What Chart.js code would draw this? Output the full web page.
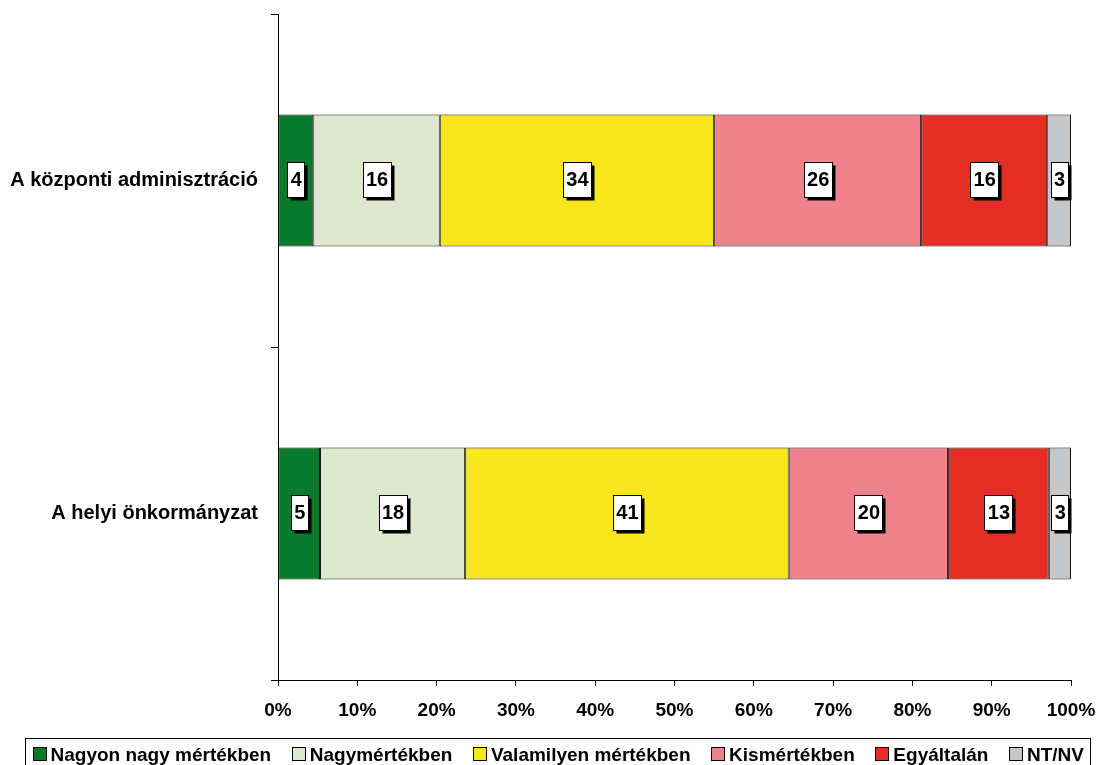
<!DOCTYPE html>
<html>
<head>
<meta charset="utf-8">
<script src="https://cdn.jsdelivr.net/npm/chart.js@4.4.1/dist/chart.umd.min.js"></script>
<style>
  html, body { margin: 0; padding: 0; background: #ffffff; }
  #wrap { width: 1098px; height: 765px; position: relative; }
</style>
</head>
<body>
<div id="wrap"><canvas id="c" width="1098" height="765"></canvas></div>
<script>
// ---- Data ----
const categories = ['A központi adminisztráció', 'A helyi önkormányzat'];
const seriesNames = ['Nagyon nagy mértékben', 'Nagymértékben', 'Valamilyen mértékben', 'Kismértékben', 'Egyáltalán', 'NT/NV'];
// bar shares (percent of the 100% bar), per series: [központi, helyi]
const nagyonNagy   = [4.45, 5.3];
const nagy         = [15.95, 18.3];
const valamilyen   = [34.6, 40.8];
const kis          = [26.1, 20.1];
const egyaltalan   = [15.9, 12.7];
const ntnv         = [3.0, 2.8];
// printed labels, per series: [központi, helyi]
const lblNagyonNagy = [4, 5];
const lblNagy       = [16, 18];
const lblValamilyen = [34, 41];
const lblKis        = [26, 20];
const lblEgyaltalan = [16, 13];
const lblNtnv       = [3, 3];
const xTicks = [0, 10, 20, 30, 40, 50, 60, 70, 80, 90, 100];

const seriesData = [nagyonNagy, nagy, valamilyen, kis, egyaltalan, ntnv];
const seriesLabels = [lblNagyonNagy, lblNagy, lblValamilyen, lblKis, lblEgyaltalan, lblNtnv];
const colors = ['#077A2B', '#DDE8CF', '#F9E71E', '#EF838D', '#E42E25', '#C6C7C9'];

const FONT = '"Liberation Sans", Arial, Helvetica, sans-serif';

const datasets = seriesNames.map((name, i) => ({
  label: name,
  data: seriesData[i],
  printed: seriesLabels[i],
  backgroundColor: colors[i],
  borderColor: '#111111',
  borderWidth: 1,
  borderSkipped: false,
  categoryPercentage: 1.0,
  barPercentage: 0.397
}));

// value labels: white boxes with shadow
const labelPlugin = {
  id: 'boxLabels',
  afterDatasetsDraw(chart) {
    const ctx = chart.ctx;
    ctx.save();
    ctx.font = 'bold 20px ' + FONT;
    ctx.textAlign = 'center';
    ctx.textBaseline = 'middle';
    chart.data.datasets.forEach((ds, di) => {
      const meta = chart.getDatasetMeta(di);
      meta.data.forEach((el, i) => {
        const txt = String(ds.printed[i]);
        const cx = (el.x + el.base) / 2;
        const cy = el.y - 0.8;
        const w = Math.round(ctx.measureText(txt).width + 6);
        const h = 35;
        const x0 = Math.round(cx - w / 2) + 0.5;
        const y0 = Math.round(cy - h / 2) + 0.5;
        ctx.fillStyle = '#000';
        ctx.fillRect(x0 + 3, y0 + 3, w, h);
        ctx.fillStyle = '#fff';
        ctx.fillRect(x0, y0, w, h);
        ctx.strokeStyle = '#000';
        ctx.lineWidth = 1;
        ctx.strokeRect(x0, y0, w, h);
        ctx.fillStyle = '#000';
        ctx.fillText(txt, cx + 0.5, cy + 1);
      });
    });
    ctx.restore();
  }
};

// custom legend in a bordered box at the bottom
const legendPlugin = {
  id: 'boxLegend',
  afterDraw(chart) {
    const ctx = chart.ctx;
    ctx.save();
    ctx.font = 'bold 19px ' + FONT;
    ctx.textBaseline = 'alphabetic';
    const sq = 13, gap = 5;
    const left = 32.5, right = 1084;
    const widths = chart.data.datasets.map(d => ctx.measureText(d.label).width);
    const itemsW = widths.reduce((a, b) => a + b, 0) + chart.data.datasets.length * (sq + gap);
    const spacing = (right - left - itemsW) / (chart.data.datasets.length - 1);
    ctx.strokeStyle = '#000';
    ctx.lineWidth = 1;
    ctx.strokeRect(25.5, 738.5, 1065, 40);
    let x = left;
    chart.data.datasets.forEach((d, i) => {
      const sx = Math.round(x) + 0.5;
      ctx.fillStyle = d.backgroundColor;
      ctx.fillRect(sx, 747.5, sq, sq);
      ctx.strokeStyle = '#000';
      ctx.strokeRect(sx, 747.5, sq, sq);
      ctx.fillStyle = '#000';
      ctx.fillText(d.label, x + sq + gap, 761);
      x += sq + gap + widths[i] + spacing;
    });
    ctx.restore();
  }
};

new Chart(document.getElementById('c'), {
  type: 'bar',
  data: { labels: categories, datasets },
  plugins: [labelPlugin, legendPlugin],
  options: {
    responsive: false,
    animation: false,
    indexAxis: 'y',
    layout: { padding: { top: 14, right: 27, left: 0, bottom: 0 } },
    plugins: { legend: { display: false }, tooltip: { enabled: false } },
    scales: {
      x: {
        stacked: true,
        min: 0, max: 100,
        afterBuildTicks(scale) { scale.ticks = xTicks.map(v => ({ value: v })); },
        afterFit(scale) {
          scale.height = 85;
          scale.paddingLeft = 0; scale.paddingRight = 0;
        },
        ticks: {
          callback: v => v + '%',
          color: '#000',
          font: { family: FONT, size: 19, weight: 'bold' },
          padding: 13,
          maxRotation: 0,
          autoSkip: false
        },
        grid: { drawOnChartArea: false, drawTicks: true, tickLength: 6, color: '#000', lineWidth: 1 },
        border: { display: true, color: '#000', width: 1 }
      },
      y: {
        stacked: true,
        afterFit(scale) {
          scale.width = 278;
          scale.paddingTop = 0; scale.paddingBottom = 0;
        },
        ticks: {
          color: '#000',
          font: { family: FONT, size: 20, weight: 'bold' },
          padding: 13
        },
        grid: { offset: true, drawOnChartArea: false, drawTicks: true, tickLength: 7, color: '#000', lineWidth: 1 },
        border: { display: true, color: '#000', width: 1 }
      }
    }
  }
});
</script>
</body>
</html>
